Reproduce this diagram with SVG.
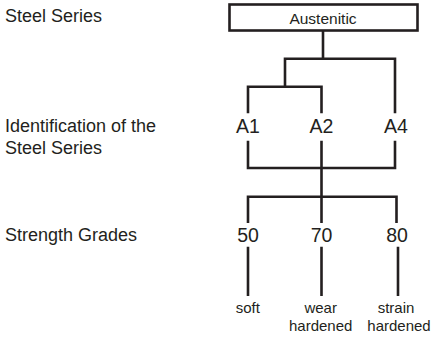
<svg xmlns="http://www.w3.org/2000/svg" width="432" height="337" viewBox="0 0 432 337">
<style>
text{font-family:"Liberation Sans",Arial,Helvetica,sans-serif;fill:#231f20}
.lbl{font-size:18px}
.big{font-size:19.5px;text-anchor:middle}
.sm{font-size:15px;text-anchor:middle}
.ln{stroke:#231f20;stroke-width:2.6;fill:none;stroke-linecap:butt;stroke-linejoin:miter}
</style>
<rect width="432" height="337" fill="#fff"/>
<g id="labels">
<text class="lbl" x="5" y="22">Steel Series</text>
<text class="lbl" x="5" y="132">Identification of the</text>
<text class="lbl" x="5" y="154">Steel Series</text>
<text class="lbl" x="5" y="241">Strength Grades</text>
</g>
<g id="connectors" class="ln">
<path d="M323 30.5V58.7M285 58.7H395M285 57.4V86.7M248 86.7H321.5M248 85.4V113.3M321.5 85.4V113.3M395 57.4V113.3"/>
<path d="M248 140.7V168H395V140.7M321.5 140.7V223M248 223V196.7H396.5V223"/>
<path d="M248 246.7V296M321.5 246.7V296M398 246.7V296"/>
</g>
<g id="austenitic">
<rect x="229.5" y="4.5" width="188" height="26" fill="#fff" stroke="#231f20" stroke-width="2.6"/>
<text class="sm" x="323" y="24" style="font-size:15.5px">Austenitic</text>
</g>
<g id="A1"><text class="big" x="248" y="133">A1</text></g>
<g id="A2"><text class="big" x="321.5" y="133">A2</text></g>
<g id="A4"><text class="big" x="396" y="133">A4</text></g>
<g id="g50"><text class="big" x="248" y="241.7">50</text></g>
<g id="g70"><text class="big" x="321.5" y="241.7">70</text></g>
<g id="g80"><text class="big" x="397" y="241.7">80</text></g>
<g id="soft"><text class="sm" x="247.8" y="312.7">soft</text></g>
<g id="wear"><text class="sm" x="320.7" y="312.7">wear</text><text class="sm" x="320.7" y="330.7">hardened</text></g>
<g id="strain"><text class="sm" x="396" y="312.7">strain</text><text class="sm" x="399" y="330.7">hardened</text></g>
</svg>
